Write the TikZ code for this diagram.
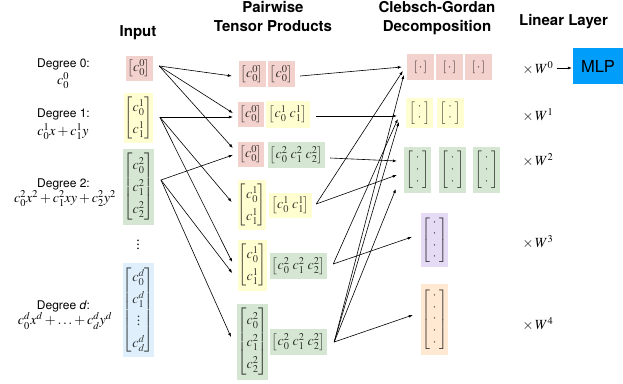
\documentclass[tikz,border=0pt]{standalone}
\usepackage{amsmath}
\usepackage{mathptmx}
\usepackage[no-math]{fontspec}
\setmainfont{Liberation Serif}
\setsansfont{TeX Gyre Heros}
\usetikzlibrary{arrows.meta}
\definecolor{cpink}{RGB}{243,210,205}
\definecolor{cyel}{RGB}{255,254,208}
\definecolor{cgrn}{RGB}{213,231,211}
\definecolor{cblu}{RGB}{223,240,252}
\definecolor{cpur}{RGB}{229,219,245}
\definecolor{corg}{RGB}{255,233,210}
\definecolor{cmlp}{RGB}{0,157,250}
\newcommand{\cv}[1]{{\renewcommand{\arraystretch}{1.3}\begin{bmatrix}#1\end{bmatrix}}}
\newcommand{\dcol}[2]{{\renewcommand{\arraystretch}{#1}\left[\begin{array}{@{\;}c@{\;}}#2\end{array}\right]}}
\begin{document}
\begin{tikzpicture}[x=1pt,y=-1pt,
  every node/.style={font=\fontsize{14}{16.8}\selectfont, inner sep=0pt},
  box/.style={minimum width=27pt},
  pinkb/.style={box, fill=cpink, text=cpink!22!black},
  yelb/.style={box, fill=cyel, text=cyel!22!black},
  grnb/.style={box, fill=cgrn, text=cgrn!22!black},
  blub/.style={box, fill=cblu, text=cblu!22!black},
  purb/.style={box, fill=cpur, text=cpur!22!black},
  orgb/.style={box, fill=corg, text=corg!22!black},
  dotb/.style={font=\fontsize{12.5}{14.4}\selectfont},
  lbl/.style={font=\sffamily\fontsize{12}{14.4}\selectfont},
  ttl/.style={font=\sffamily\bfseries\fontsize{15}{19.5}\selectfont, align=center},
  wl/.style={font=\fontsize{14}{16}\selectfont},
  con/.style={-{Latex[length=4pt,width=3pt]}, line width=0.6pt}]
\useasboundingbox (0,0) rectangle (623,383);

% titles
\node[ttl, anchor=base] (tin) at (138,36) {Input};
\node[ttl, anchor=north] (tpw) at (273,1) {Pairwise\\Tensor Products};
\node[ttl, anchor=north] (tcg) at (437,1) {Clebsch-Gordan\\Decomposition};
\node[ttl, anchor=base] (tll) at (563.5,25) {Linear Layer};

% left labels
\node[lbl, anchor=base] (d0) at (63.5,67) {Degree 0:};
\node (e0) at (63,80.5) {$c_0^0$};
\node[lbl, anchor=base] (d1) at (63.5,117) {Degree 1:};
\node (e1) at (63,131.5) {$c_0^1x + c_1^1y$};
\node[lbl, anchor=base] (d2) at (63.5,187) {Degree 2:};
\node (e2) at (65,198.5) {$c_0^2x^2 + c_1^2xy + c_2^2y^2$};
\node[lbl, anchor=base] (dd) at (63.5,309) {Degree \textit{d}:};
\node (ed) at (65,321) {$c_0^dx^d + \ldots + c_d^dy^d$};

% input column
\node[pinkb, minimum height=25pt] (i0) at (139,68) {$\left[c_0^0\right]$};
\node[yelb, minimum height=50pt] (i1) at (138.5,118) {$\cv{c_0^1\\c_1^1}$};
\node[grnb, minimum height=76pt] (i2) at (138.5,187) {$\cv{c_0^2\\c_1^2\\c_2^2}$};
\node (ivd) at (138,242) {$\vdots$};
\node[blub, minimum height=94pt] (id) at (138.5,310) {$\cv{c_0^d\\c_1^d\\\vdots\\c_d^d}$};

% pairwise tensor products
\node[pinkb, minimum height=26pt] (p1a) at (252,74) {$\left[c_0^0\right]$};
\node[pinkb, minimum height=26pt] (p1b) at (281.5,74) {$\left[c_0^0\right]$};
\node[pinkb, minimum width=26pt, minimum height=25pt] (p2a) at (251,114) {$\left[c_0^0\right]$};
\node[yelb, minimum width=44pt, minimum height=27pt] (p2b) at (288,114) {$\left[c_0^1\;c_1^1\right]$};
\node[pinkb, minimum width=26pt, minimum height=25pt] (p3a) at (251,154) {$\left[c_0^0\right]$};
\node[grnb, minimum width=57pt, minimum height=26pt] (p3b) at (296.5,155) {$\left[c_0^2\;c_1^2\;c_2^2\right]$};
\node[yelb, minimum width=26pt, minimum height=50pt] (p4a) at (252,205) {$\cv{c_0^1\\c_1^1}$};
\node[yelb, minimum width=43pt, minimum height=25pt] (p4b) at (290.5,205) {$\left[c_0^1\;c_1^1\right]$};
\node[yelb, minimum height=51pt] (p5a) at (252.5,265) {$\cv{c_0^1\\c_1^1}$};
\node[grnb, minimum width=57pt, minimum height=26pt] (p5b) at (298.5,266) {$\left[c_0^2\;c_1^2\;c_2^2\right]$};
\node[grnb, minimum height=76pt] (p6a) at (252.5,342) {$\cv{c_0^2\\c_1^2\\c_2^2}$};
\node[grnb, minimum width=57pt, minimum height=26pt] (p6b) at (298.5,342) {$\left[c_0^2\;c_1^2\;c_2^2\right]$};

% Clebsch-Gordan decomposition
\node[pinkb, dotb, minimum height=26pt] (cA1) at (420.5,67) {$[\,\cdot\,]$};
\node[pinkb, dotb, minimum height=26pt] (cA2) at (449.5,67) {$[\,\cdot\,]$};
\node[pinkb, dotb, minimum height=26pt] (cA3) at (478.5,67) {$[\,\cdot\,]$};
\node[yelb, dotb, minimum height=30pt] (cB1) at (419.5,113) {$\dcol{0.72}{\cdot\\\cdot}$};
\node[yelb, dotb, minimum height=30pt] (cB2) at (450,113) {$\dcol{0.72}{\cdot\\\cdot}$};
\node[grnb, dotb, minimum height=46pt] (cC1) at (417.5,170) {$\dcol{0.85}{\cdot\\\cdot\\\cdot}$};
\node[grnb, dotb, minimum height=46pt] (cC2) at (452.5,170) {$\dcol{0.85}{\cdot\\\cdot\\\cdot}$};
\node[grnb, dotb, minimum height=46pt] (cC3) at (486.5,170) {$\dcol{0.85}{\cdot\\\cdot\\\cdot}$};
\node[purb, dotb, minimum height=54pt] (cD) at (434.5,240) {$\dcol{0.8}{\cdot\\\cdot\\\cdot\\\cdot}$};
\node[orgb, dotb, minimum height=71pt] (cE) at (434.5,319.5) {$\dcol{0.82}{\cdot\\\cdot\\\cdot\\\cdot\\\cdot}$};

% linear layer
\node[wl] (w0) at (538,68) {$\times\,W^0$};
\node[wl] (w1) at (538,115) {$\times\,W^1$};
\node[wl] (w2) at (538,160.5) {$\times\,W^2$};
\node[wl] (w3) at (538,242) {$\times\,W^3$};
\node[wl] (w4) at (538,324) {$\times\,W^4$};
\node[fill=cmlp, minimum width=50pt, minimum height=36pt, font=\sffamily\fontsize{16.5}{19}\selectfont] (mlp) at (598,66) {MLP};
\draw[con] ([shift={(3,0)}]w0.east) -- ([shift={(-1,2)}]mlp.west);

% input -> pairwise
\draw[con] ([shift={(6.5,-2)}]i0.east) -- ([shift={(-6.5,2)}]p1a.west);
\draw[con] ([shift={(6.5,-2)}]i0.east) -- ([shift={(-5,-1)}]p2a.west);
\draw[con] ([shift={(6.5,-2)}]i0.east) -- ([shift={(-5,-6)}]p3a.west);
\draw[con] ([shift={(7,-1)}]i1.east) -- ([shift={(-5,3)}]p2a.west);
\draw[con] ([shift={(7,-1)}]i1.east) -- ([shift={(-6,-3)}]p4a.west);
\draw[con] ([shift={(7,-1)}]i1.east) -- ([shift={(-6,-3)}]p5a.west);
\draw[con] ([shift={(7,-7)}]i2.east) -- ([shift={(-5,1)}]p3a.west);
\draw[con] ([shift={(7,-7)}]i2.east) -- ([shift={(-6,8)}]p5a.west);
\draw[con] ([shift={(7,-7)}]i2.east) -- ([shift={(-6,-5)}]p6a.west);

% pairwise -> CG
\draw[con] ([shift={(5,2)}]p1b.east) -- ([shift={(-5,0)}]cA1.west);
\draw[con] ([shift={(6,2)}]p2b.east) -- ([shift={(-9,3)}]cB1.west);
\draw[con] ([shift={(5,3)}]p3b.east) -- ([shift={(-7,-9)}]cC1.west);
\draw[con] ([shift={(4,-1)}]p4b.east) -- ([shift={(-4,4)}]cA1.west);
\draw[con] ([shift={(4,-1)}]p4b.east) -- ([shift={(-7,5)}]cC1.west);
\draw[con] ([shift={(6,-2)}]p5b.east) -- ([shift={(-8,6)}]cB1.west);
\draw[con] ([shift={(6,-2)}]p5b.east) -- ([shift={(-9,-3)}]cD.west);
\draw[con] ([shift={(7,0)}]p6b.east) -- ([shift={(-3,8)}]cA1.west);
\draw[con] ([shift={(7,0)}]p6b.east) -- ([shift={(-7,9)}]cB1.west);
\draw[con] ([shift={(7,0)}]p6b.east) -- ([shift={(-8,19)}]cC1.west);
\draw[con] ([shift={(7,0)}]p6b.east) -- ([shift={(-8,-4.5)}]cE.west);
\end{tikzpicture}
\end{document}
